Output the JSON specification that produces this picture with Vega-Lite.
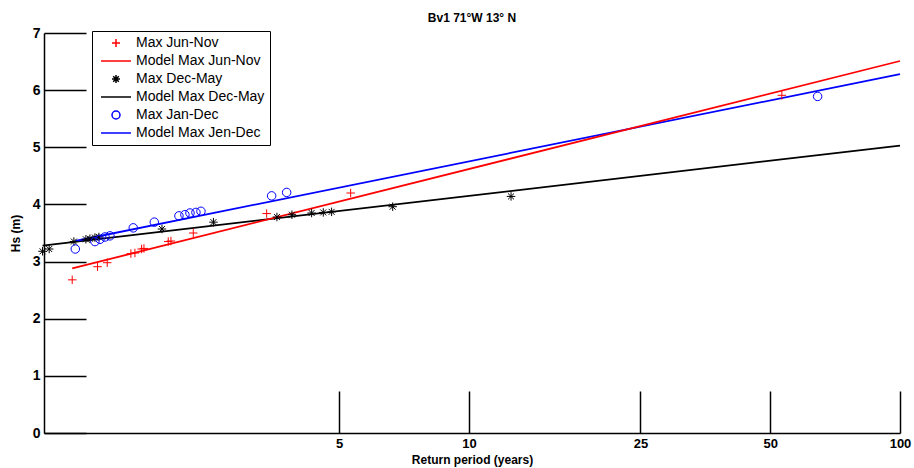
{
  "$schema": "https://vega.github.io/schema/vega-lite/v6.json",
  "width": 856,
  "height": 400,
  "autosize": {"type": "none"},
  "padding": {"left": 44, "top": 33, "right": 14, "bottom": 35},
  "title": {"text": "Bv1 71°W 13° N", "fontSize": 12, "fontWeight": "bold", "font": "Liberation Sans", "color": "black", "anchor": "middle", "offset": 1},
  "config": {
    "view": {"stroke": null},
    "axis": {"domainColor": "black", "domainWidth": 1.5, "tickColor": "black", "tickWidth": 1.5, "grid": false, "labelColor": "black", "titleColor": "black", "labelFont": "Liberation Sans", "titleFont": "Liberation Sans", "labelFontWeight": "bold", "titleFontWeight": "bold"}
  },
  "datasets": {
    "pts": [
      {"series": "Max Jun-Nov", "T": 1.201, "Hs": 2.68},
      {"series": "Max Jun-Nov", "T": 1.375, "Hs": 2.91},
      {"series": "Max Jun-Nov", "T": 1.448, "Hs": 2.98},
      {"series": "Max Jun-Nov", "T": 1.643, "Hs": 3.14},
      {"series": "Max Jun-Nov", "T": 1.679, "Hs": 3.15},
      {"series": "Max Jun-Nov", "T": 1.740, "Hs": 3.22},
      {"series": "Max Jun-Nov", "T": 1.762, "Hs": 3.23},
      {"series": "Max Jun-Nov", "T": 2.006, "Hs": 3.35},
      {"series": "Max Jun-Nov", "T": 2.035, "Hs": 3.36},
      {"series": "Max Jun-Nov", "T": 2.293, "Hs": 3.50},
      {"series": "Max Jun-Nov", "T": 3.394, "Hs": 3.84},
      {"series": "Max Jun-Nov", "T": 5.315, "Hs": 4.20},
      {"series": "Max Jun-Nov", "T": 53.2, "Hs": 5.91},
      {"series": "Max Dec-May", "T": 1.025, "Hs": 3.18},
      {"series": "Max Dec-May", "T": 1.062, "Hs": 3.22},
      {"series": "Max Dec-May", "T": 1.212, "Hs": 3.35},
      {"series": "Max Dec-May", "T": 1.292, "Hs": 3.39},
      {"series": "Max Dec-May", "T": 1.320, "Hs": 3.40},
      {"series": "Max Dec-May", "T": 1.356, "Hs": 3.42},
      {"series": "Max Dec-May", "T": 1.385, "Hs": 3.43},
      {"series": "Max Dec-May", "T": 1.940, "Hs": 3.57},
      {"series": "Max Dec-May", "T": 2.554, "Hs": 3.69},
      {"series": "Max Dec-May", "T": 3.585, "Hs": 3.78},
      {"series": "Max Dec-May", "T": 3.884, "Hs": 3.82},
      {"series": "Max Dec-May", "T": 4.315, "Hs": 3.85},
      {"series": "Max Dec-May", "T": 4.592, "Hs": 3.86},
      {"series": "Max Dec-May", "T": 4.801, "Hs": 3.87},
      {"series": "Max Dec-May", "T": 6.653, "Hs": 3.96},
      {"series": "Max Dec-May", "T": 12.52, "Hs": 4.14},
      {"series": "Max Jan-Dec", "T": 1.221, "Hs": 3.22},
      {"series": "Max Jan-Dec", "T": 1.356, "Hs": 3.35},
      {"series": "Max Jan-Dec", "T": 1.393, "Hs": 3.39},
      {"series": "Max Jan-Dec", "T": 1.431, "Hs": 3.43},
      {"series": "Max Jan-Dec", "T": 1.469, "Hs": 3.45},
      {"series": "Max Jan-Dec", "T": 1.664, "Hs": 3.59},
      {"series": "Max Jan-Dec", "T": 1.862, "Hs": 3.69},
      {"series": "Max Jan-Dec", "T": 2.124, "Hs": 3.80},
      {"series": "Max Jan-Dec", "T": 2.193, "Hs": 3.82},
      {"series": "Max Jan-Dec", "T": 2.253, "Hs": 3.85},
      {"series": "Max Jan-Dec", "T": 2.326, "Hs": 3.86},
      {"series": "Max Jan-Dec", "T": 2.389, "Hs": 3.88},
      {"series": "Max Jan-Dec", "T": 3.485, "Hs": 4.15},
      {"series": "Max Jan-Dec", "T": 3.776, "Hs": 4.21},
      {"series": "Max Jan-Dec", "T": 64.4, "Hs": 5.89}
    ],
    "lines": [
      {"series": "Model Max Jun-Nov", "T": 1.201, "Hs": 2.88},
      {"series": "Model Max Jun-Nov", "T": 100, "Hs": 6.51},
      {"series": "Model Max Dec-May", "T": 1.025, "Hs": 3.28},
      {"series": "Model Max Dec-May", "T": 100, "Hs": 5.03},
      {"series": "Model Max Jen-Dec", "T": 1.221, "Hs": 3.36},
      {"series": "Model Max Jen-Dec", "T": 100, "Hs": 6.28}
    ]
  },
  "encoding": {
    "x": {"field": "T", "type": "quantitative",
      "scale": {"type": "log", "domain": [1.033, 100], "nice": false},
      "axis": {"values": [5, 10, 25, 50, 100], "format": "d", "tickSize": -42, "labelPadding": 46, "labelFontSize": 13, "labelFlush": false, "title": "Return period (years)", "titleFontSize": 12, "titlePadding": 4}},
    "y": {"field": "Hs", "type": "quantitative",
      "scale": {"domain": [0, 7], "nice": false},
      "axis": {"values": [0, 1, 2, 3, 4, 5, 6, 7], "tickSize": -42, "labelPadding": 46, "labelFontSize": 14, "title": "Hs (m)", "titleFontSize": 12, "titlePadding": 10}}
  },
  "layer": [
    {
      "data": {"name": "lines"},
      "transform": [{"filter": "datum.series === 'Model Max Dec-May'"}],
      "mark": {"type": "line", "color": "black", "strokeWidth": 1.8, "clip": false}
    },
    {
      "data": {"name": "lines"},
      "transform": [{"filter": "datum.series === 'Model Max Jen-Dec'"}],
      "mark": {"type": "line", "color": "#0000ff", "strokeWidth": 1.8, "clip": false}
    },
    {
      "data": {"name": "lines"},
      "transform": [{"filter": "datum.series === 'Model Max Jun-Nov'"}],
      "mark": {"type": "line", "color": "#ff0000", "strokeWidth": 1.8, "clip": false}
    },
    {
      "data": {"name": "pts"},
      "mark": {"type": "point", "filled": false, "size": 72, "strokeWidth": 1, "opacity": 1},
      "encoding": {
        "color": {"field": "series", "type": "nominal",
          "scale": {"domain": ["Max Jun-Nov", "Model Max Jun-Nov", "Max Dec-May", "Model Max Dec-May", "Max Jan-Dec", "Model Max Jen-Dec"],
                    "range": ["#ff0000", "#ff0000", "black", "black", "#0000ff", "#0000ff"]},
          "legend": {"orient": "none", "legendX": 48, "legendY": -2, "title": null, "strokeColor": "black", "fillColor": "white", "padding": 5, "symbolOffset": 12, "labelOffset": 13, "labelFontSize": 14, "labelFont": "Liberation Sans", "labelColor": "black", "rowPadding": 4, "symbolSize": 64, "symbolStrokeWidth": 1.5, "cornerRadius": 0, "labelLimit": 300}},
        "shape": {"field": "series", "type": "nominal",
          "scale": {"domain": ["Max Jun-Nov", "Model Max Jun-Nov", "Max Dec-May", "Model Max Dec-May", "Max Jan-Dec", "Model Max Jen-Dec"],
                    "range": ["M-1,0H1M0,-1V1", "M-3.75,0H3.75", "M-1,0H1M0,-1V1M-0.7,-0.7L0.7,0.7M-0.7,0.7L0.7,-0.7", "M-3.75,0H3.75", "circle", "M-3.75,0H3.75"]},
          "legend": {"orient": "none", "legendX": 48, "legendY": -2, "title": null}}
      }
    }
  ]
}
